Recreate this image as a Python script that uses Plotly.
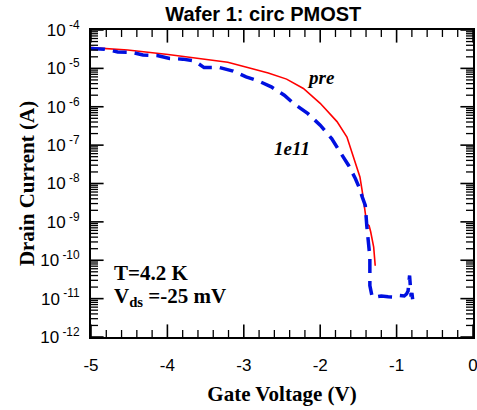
import plotly.graph_objects as go

# Gate voltage (V) and drain current (A)
vg_pre = [-5.00, -4.52, -3.99, -3.60, -3.21, -2.95, -2.68, -2.44, -2.22, -2.00,
          -1.78, -1.65, -1.57, -1.48, -1.45, -1.42, -1.39, -1.36, -1.34, -1.30, -1.28]
id_pre = [3.47e-5, 3.02e-5, 2.29e-5, 1.82e-5, 1.45e-5, 1.05e-5, 7.6e-6, 5.25e-6, 3.0e-6, 1.23e-6,
          4.1e-7, 1.62e-7, 4.9e-8, 1.48e-8, 6.3e-9, 2.5e-9, 8.9e-10, 7.9e-10, 5.6e-10, 2.2e-10, 7.2e-11]

vg_1e11 = [-5.00, -4.82, -4.65, -4.47, -4.32, -4.12, -3.97, -3.80, -3.64, -3.52,
           -3.32, -3.14, -2.97, -2.81, -2.64, -2.47, -2.35, -2.16, -2.00, -1.85,
           -1.74, -1.63, -1.54, -1.49, -1.45, -1.41, -1.39, -1.37, -1.35, -1.35,
           -1.32, -1.28, -1.20, -1.11, -1.03, -0.96, -0.90, -0.87, -0.85, -0.83,
           -0.81, -0.80, -0.78]
id_1e11 = [3.31e-5, 3.16e-5, 2.69e-5, 2.63e-5, 2.24e-5, 2.14e-5, 1.82e-5, 1.74e-5, 1.55e-5, 1.05e-5,
           1.05e-5, 8.5e-6, 6.0e-6, 4.7e-6, 3.3e-6, 2.0e-6, 1.23e-6, 6.6e-7, 3.3e-7, 1.48e-7,
           6.6e-8, 3.0e-8, 1.35e-8, 7.9e-9, 4.5e-9, 2.7e-9, 7.9e-10, 2.8e-10, 1.2e-10, 2.2e-11,
           1.12e-11, 1.10e-11, 1.17e-11, 1.12e-11, 1.10e-11, 1.20e-11, 1.17e-11, 1.32e-11, 1.58e-11, 4.0e-11,
           1.12e-11, 1.41e-11, 6.6e-12]

x_major = [-5, -4, -3, -2, -1, 0]
y_tickvals = [1e-12, 1e-11, 1e-10, 1e-9, 1e-8, 1e-7, 1e-6, 1e-5, 1e-4]
y_ticktext = ["10<sup> -12</sup>", "10<sup> -11</sup>", "10<sup> -10</sup>", "10<sup> -9</sup>",
              "10<sup> -8</sup>", "10<sup> -7</sup>", "10<sup> -6</sup>", "10<sup> -5</sup>", "10<sup> -4</sup>"]

serif = "Liberation Serif"
sans = "Liberation Sans"
x_lo, x_hi = -5, 0
y_lo, y_hi = 1e-12, 1e-4

fig = go.Figure()
fig.add_trace(go.Scatter(x=vg_pre, y=id_pre, mode="lines", name="pre",
                         line=dict(color="#ff0000", width=1.6)))
fig.add_trace(go.Scatter(x=vg_1e11, y=id_1e11, mode="lines", name="1e11",
                         line=dict(color="#0010e0", width=3.5, dash="14px,8px")))

# inside tick marks on all four frame sides: markers centred on the frame,
# the outer half is clipped away by the plot area
x_minor = [x0 + k * 0.2 for x0 in x_major[:-1] for k in range(1, 5)]
y_minor = [m * t for t in y_tickvals[:-1] for m in range(2, 10)]
for xs, size, w in [(x_major, 18, 1.6), (x_minor, 10, 1.3)]:
    fig.add_trace(go.Scatter(
        x=xs + xs, y=[y_lo] * len(xs) + [y_hi] * len(xs), mode="markers",
        marker=dict(symbol="line-ns-open", size=size, color="black",
                    line=dict(color="black", width=w)),
        cliponaxis=True, hoverinfo="skip", showlegend=False))
for ys, size, w in [(y_tickvals, 18, 1.6), (y_minor, 10, 1.3)]:
    fig.add_trace(go.Scatter(
        x=[x_lo] * len(ys) + [x_hi] * len(ys), y=ys + ys, mode="markers",
        marker=dict(symbol="line-ew-open", size=size, color="black",
                    line=dict(color="black", width=w)),
        cliponaxis=True, hoverinfo="skip", showlegend=False))

fig.add_annotation(x=-2.20, y=-5.25, xref="x", yref="y", text="<b><i>pre</i></b>",
                   showarrow=False, xanchor="left", yanchor="middle",
                   font=dict(family=serif, size=19, color="black"))
fig.add_annotation(x=-2.63, y=-7.08, xref="x", yref="y", text="<b><i>1e11</i></b>",
                   showarrow=False, xanchor="left", yanchor="middle",
                   font=dict(family=serif, size=19, color="black"))
fig.add_annotation(x=-4.72, y=-10.34, xref="x", yref="y", text="<b>T=4.2 K</b>",
                   showarrow=False, xanchor="left", yanchor="middle",
                   font=dict(family=serif, size=21, color="black"))
fig.add_annotation(x=-4.72, y=-10.97, xref="x", yref="y",
                   text="<b>V<sub>ds</sub> =-25 mV</b>",
                   showarrow=False, xanchor="left", yanchor="middle",
                   font=dict(family=serif, size=21, color="black"))

fig.update_layout(
    template="simple_white",
    width=477, height=410,
    margin=dict(l=91, r=4, t=30, b=73, autoexpand=False),
    paper_bgcolor="white", plot_bgcolor="white",
    showlegend=False,
    title=dict(text="<b>Wafer 1: circ PMOST</b>", x=0.552, xanchor="center",
               y=0.965, yanchor="middle",
               font=dict(family=sans, size=20, color="black")),
    xaxis=dict(
        range=[x_lo, x_hi], tickmode="array", tickvals=x_major, ticktext=[str(v) for v in x_major],
        showgrid=False, zeroline=False, automargin=False, ticklabeloverflow="allow",
        showline=True, linecolor="black", linewidth=2, mirror=True,
        ticks="",
        tickfont=dict(family=sans, size=17, color="black"), ticklabelstandoff=12,
        title=dict(text="<b>Gate Voltage (V)</b>", font=dict(family=serif, size=21, color="black"),
                   standoff=12),
    ),
    yaxis=dict(
        type="log", range=[-12, -4], tickmode="array", tickvals=y_tickvals, ticktext=y_ticktext,
        showgrid=False, zeroline=False, automargin=False, ticklabeloverflow="allow",
        showline=True, linecolor="black", linewidth=2, mirror=True,
        ticks="",
        tickfont=dict(family=sans, size=17, color="black"), ticklabelstandoff=6,
        title=dict(text="<b>Drain Current (A)</b>", font=dict(family=serif, size=21, color="black"),
                   standoff=0),
    ),
)

fig.write_html("out.html")
